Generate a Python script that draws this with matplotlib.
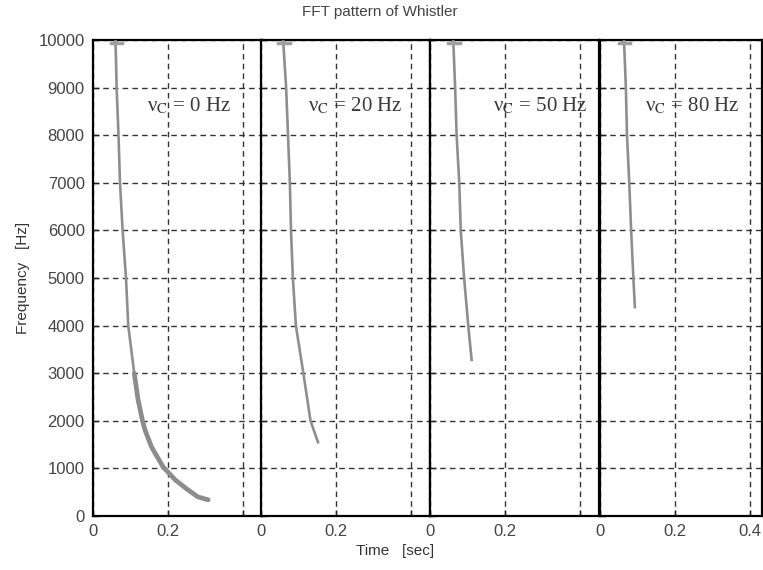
"""FFT pattern of a whistler for four collision frequencies (nu_C)."""
import matplotlib.pyplot as plt

# (time [s], frequency [Hz]) per panel
labels = ["ν$_{\\rm C}$ = 0 Hz", "ν$_{\\rm C}$ = 20 Hz",
          "ν$_{\\rm C}$ = 50 Hz", "ν$_{\\rm C}$ = 80 Hz"]

t_0 = [0.060, 0.063, 0.068, 0.072, 0.079, 0.088, 0.094, 0.110, 0.120, 0.132,
       0.139, 0.156, 0.187, 0.219, 0.253, 0.280, 0.307]
f_0 = [10000, 9000, 8000, 7000, 6000, 5000, 4000, 3000, 2450, 2000,
       1800, 1450, 1030, 760, 550, 400, 340]

t_20 = [0.059, 0.067, 0.072, 0.077, 0.080, 0.085, 0.093, 0.113, 0.132, 0.152]
f_20 = [10000, 9000, 8000, 7000, 6000, 5000, 4000, 3000, 2000, 1550]

t_50 = [0.062, 0.067, 0.071, 0.078, 0.082, 0.091, 0.102, 0.111]
f_50 = [10000, 9000, 8000, 7000, 6000, 5000, 4000, 3280]

t_80 = [0.064, 0.069, 0.072, 0.078, 0.083, 0.089, 0.093]
f_80 = [10000, 9000, 8000, 7000, 6000, 5000, 4390]

times = [t_0, t_20, t_50, t_80]
freqs = [f_0, f_20, f_50, f_80]

# small blob along the top edge where each trace starts
cap_t = [-0.013, 0.017]
cap_f = [9940, 9940]

label_x = [0.145, 0.125, 0.168, 0.120]
label_f = 8620

yticks = list(range(0, 10001, 1000))
xticks = [0, 0.2, 0.4]

W, H = 763, 570
fig = plt.figure(figsize=(W / 100, H / 100), dpi=100)
plt.rcParams["font.family"] = ["Liberation Sans", "DejaVu Sans"]
plt.rcParams["mathtext.fontset"] = "stix"

lefts = [93, 261, 430, 600]
xmax = [0.45, 0.45, 0.45, 0.432]
px_per_unit = 375
bottom, top = 516, 40

for i in range(4):
    width = xmax[i] * px_per_unit
    ax = fig.add_axes([lefts[i] / W, (H - bottom) / H, width / W, (bottom - top) / H])
    t, f = times[i], freqs[i]
    ax.plot(t, f, color="#8e8e8e", lw=1.9, zorder=3)
    if i == 0:
        # the low-frequency tail is a broader band in the spectrogram
        low = [k for k in range(len(f)) if f[k] <= 3000]
        ax.plot([t[k] for k in low], [f[k] for k in low], color="#8c8c8c",
                lw=3.4, solid_capstyle="round", zorder=3)
    ax.plot([t[0] + c for c in cap_t], cap_f, color="#a0a0a0", lw=2.5, zorder=3)
    ax.set_xlim(0, xmax[i])
    ax.set_ylim(0, 10000)
    ax.set_xticks(xticks)
    ax.set_xticklabels(["0", "0.2", "0.4"] if i == 3 else ["0", "0.2", ""])
    ax.set_yticks(yticks)
    if i == 0:
        ax.set_yticklabels([str(v) for v in yticks])
        ax.set_ylabel("Frequency   [Hz]", fontsize=11, color="#333333", labelpad=6)
    else:
        ax.set_yticklabels([])
    ax.tick_params(direction="in", length=4, width=1, colors="#222222",
                   labelcolor="#444444", labelsize=12, pad=6)
    ax.grid(True, color="#333333", lw=1, linestyle=(0, (4, 3)))
    for sp in ax.spines.values():
        sp.set_linewidth(1.6)
        sp.set_color("black")
    ax.text(label_x[i], label_f, labels[i], fontsize=15, color="#3a3a3a",
            family=["Liberation Serif", "DejaVu Serif"], va="center", ha="left", zorder=4)

fig.text(380 / W, 1 - 12 / H, "FFT pattern of Whistler", ha="center", va="center",
         fontsize=11, color="#444444")
fig.text(395 / W, 1 - 551 / H, "Time   [sec]", ha="center", va="center",
         fontsize=11, color="#333333")

fig.savefig("out.png", dpi=100)
